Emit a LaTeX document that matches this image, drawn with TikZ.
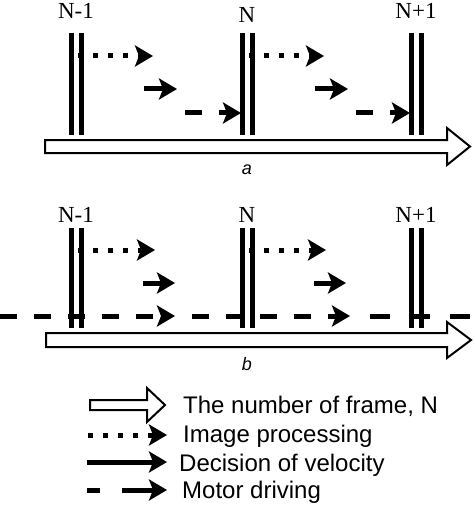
\documentclass[tikz,border=0pt]{standalone}
\usepackage{fontspec}
\setmainfont{Liberation Serif}
\setsansfont{Liberation Sans}
\usetikzlibrary{arrows.meta}

\begin{document}
\begin{tikzpicture}[x=1pt,y=-1pt,
  bar/.style={line width=5pt},
  tip/.style={-{Stealth[length=18pt,width=21pt,inset=4pt]}},
  dots arrow/.style={tip,line width=5pt,dash pattern=on 5pt off 10pt},
  solid arrow/.style={tip,line width=5pt},
  dash arrow/.style={tip,line width=5pt,dash pattern=on 17pt off 17pt},
  hollow/.style={draw,line width=2pt,fill=white,line join=miter},
  frame label/.style={font=\fontsize{23}{23}\selectfont,inner sep=0pt},
  panel label/.style={font=\sffamily\itshape\fontsize{18}{18}\selectfont,inner sep=0pt},
  legend text/.style={font=\sffamily\fontsize{24}{24}\selectfont,anchor=base west,inner sep=0pt}]

  \useasboundingbox (0,0) rectangle (474,516);

  % panel a
  \foreach \x/\y/\t [count=\i] in {71/11/N-1,242/15/N,411/11/N+1}{
    \coordinate (aL\i) at (\x,33);
    \node[frame label] (aN\i) at (\x+5,\y) {\t};
    \draw[bar] (aL\i) -- ++(0,102);
    \draw[bar] ([shift={(10,0)}]aL\i) -- ++(0,102);
  }
  \foreach \i/\j in {1/2,2/3}{
    \draw[dots arrow] ([shift={(7,23)}]aL\i) -- ([shift={(82,23)}]aL\i);
    \draw[solid arrow] ([shift={(73,56)}]aL\i) -- ([shift={(106,56)}]aL\i);
    \draw[dash arrow] ([shift={(114,80)}]aL\i) -- ([shift={(-1,80)}]aL\j);
  }
  \draw[hollow] (45,140) -- (447,140) -- (447,128) -- (470,146.5)
    -- (447,165) -- (447,153) -- (45,153) -- cycle;
  \node[panel label] (pa) at (247,170) {a};

  % panel b
  \foreach \x/\t [count=\i] in {71/N-1,242/N,411/N+1}{
    \coordinate (bL\i) at (\x,228);
    \node[frame label] (bN\i) at (\x+5,215) {\t};
    \draw[bar] (bL\i) -- ++(0,100);
    \draw[bar] ([shift={(10,0)}]bL\i) -- ++(0,100);
  }
  \foreach \i in {1,2}{
    \draw[dots arrow] ([shift={(7,22)}]bL\i) -- ([shift={(84,22)}]bL\i);
    \draw[solid arrow] ([shift={(72,55)}]bL\i) -- ([shift={(104,55)}]bL\i);
  }
  \coordinate (mA) at (0,316);
  \coordinate (mB) at (175,316);
  \coordinate (mC) at (350,316);
  \coordinate (mD) at (474,316);
  \draw[dash arrow] (mA) -- (mB);
  \draw[dash arrow,dash phase=17pt] (mB) -- (mC);
  \draw[line width=5pt,dash pattern=on 20pt off 20pt,dash phase=20pt] (mC) -- (mD);
  \draw[hollow] (46,333) -- (447,333) -- (447,322) -- (471,340)
    -- (447,358) -- (447,347) -- (46,347) -- cycle;
  \node[panel label] (pb) at (247,364) {b};

  % legend
  \draw[hollow] (90,400) -- (147,400) -- (147,388) -- (165,405)
    -- (147,422) -- (147,410) -- (90,410) -- cycle;
  \node[legend text] (lgFrame) at (183,413) {The number of frame, N};
  \node[legend text] (lgImage) at (183,442) {Image processing};
  \node[legend text] (lgSpeed) at (179,471) {Decision of velocity};
  \node[legend text] (lgMotor) at (182,498) {Motor driving};
  \coordinate (dA) at (88,435);  \coordinate (dB) at (167,435);
  \coordinate (sA) at (87,462);  \coordinate (sB) at (167,462);
  \coordinate (mdA) at (87,490); \coordinate (mdB) at (167,490);
  \draw[dots arrow] (dA) -- (dB);
  \draw[solid arrow] (sA) -- (sB);
  \draw[tip,line width=5pt,dash pattern=on 13pt off 22pt on 60pt off 0pt] (mdA) -- (mdB);
\end{tikzpicture}
\end{document}
